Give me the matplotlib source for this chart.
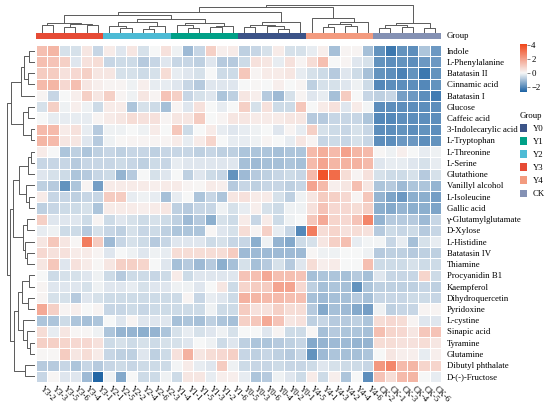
import numpy as np
import matplotlib
matplotlib.use("Agg")
import matplotlib.pyplot as plt
from matplotlib.colors import LinearSegmentedColormap, ListedColormap, Normalize
from matplotlib.cm import ScalarMappable
from matplotlib.patches import Patch

plt.rcParams['font.family'] = ['Liberation Serif', 'DejaVu Serif']

metabolites = ["Indole", "L-Phenylalanine", "Batatasin II", "Cinnamic acid", "Batatasin I",
               "Glucose", "Caffeic acid", "3-Indolecarylic acid", "L-Tryptophan", "L-Threonine",
               "L-Serine", "Glutathione", "Vanillyl alcohol", "L-Isoleucine", "Gallic acid",
               "γ-Glutamylglutamate", "D-Xylose", "L-Histidine", "Batatasin IV", "Thiamine",
               "Procyanidin B1", "Kaempferol", "Dihydroquercetin", "Pyridoxine", "L-cystine",
               "Sinapic acid", "Tyramine", "Glutamine", "Dibutyl phthalate", "D-(-)-Fructose"]

samples = ["Y3-2", "Y3-3", "Y3-5", "Y3-6", "Y3-4", "Y3-1",
           "Y2-1", "Y2-5", "Y2-2", "Y2-4", "Y2-6", "Y2-3",
           "Y1-4", "Y1-1", "Y1-5", "Y1-3", "Y1-2", "Y1-6",
           "Y0-5", "Y0-3", "Y0-6", "Y0-4", "Y0-2", "Y0-1",
           "Y4-5", "Y4-1", "Y4-3", "Y4-2", "Y4-4", "Y4-6",
           "CK-2", "CK-1", "CK-3", "CK-4", "CK-5", "CK-6"]
sample_group = [s.split("-")[0] for s in samples]

group_order = ["Y0", "Y1", "Y2", "Y3", "Y4", "CK"]
group_colors = ["#3C5488", "#00A087", "#4DBBD5", "#E64B35", "#F39B7F", "#8491B4"]

# scaled abundance, one row per metabolite (column order as in the plot)
values = np.array([
    [1.3, 1.5, -0.4, -0.4, 0.4, -0.6, 0.3, -0.3, 0.4, -0.4, 0.0, 0.5, -0.1, -1.1, -0.6, 0.9, 0.2, 0.3, -0.7, -0.6, -0.4, 0.3, -0.4, -0.4, -0.2, 0.2, -1.0, 0.1, 0.1, -1.0, -1.8, -2.3, -1.8, -1.9, -0.9, -1.7],
    [1.3, 1.2, 0.9, -0.3, 0.5, 0.6, -0.6, -0.5, -0.5, -0.8, -0.6, -0.3, -0.6, -0.6, -0.7, -0.3, -0.8, -0.8, -0.5, 0.5, 0.4, -0.2, 0.5, 0.1, 0.6, 1.3, 0.0, 0.1, -0.3, -0.4, -1.8, -1.9, -1.8, -1.9, -1.7, -1.7],
    [1.0, 1.0, 0.5, 0.7, 0.9, 0.4, 0.4, -0.4, -0.4, -0.5, -0.4, 0.6, -0.2, -0.3, -0.4, 0.0, -0.5, -0.5, 1.1, 0.1, 0.3, 0.3, 0.4, -0.2, -0.4, -0.5, -0.8, -0.3, -0.5, -1.0, -1.8, -1.9, -2.1, -1.8, -2.3, -1.8],
    [1.4, 1.5, 0.7, 1.3, 0.4, 0.2, 0.1, 0.1, -0.1, 0.2, -0.2, -0.2, -0.3, -0.6, -0.8, -0.3, -0.3, -0.3, 0.0, 0.05, 0.0, 0.2, 0.0, 0.1, -0.7, -0.4, -0.4, -0.3, -0.1, -0.5, -2.0, -1.9, -1.9, -1.9, -2.0, -1.8],
    [0.1, -0.6, 0.0, 0.2, 0.9, 0.4, 0.9, 0.1, -0.1, 0.4, 0.1, 1.2, 0.9, -0.6, -0.4, -0.3, -0.9, -0.7, 0.4, 0.2, -0.8, -1.1, -0.4, 0.1, -0.3, -0.2, -1.0, 1.0, 0.0, -0.6, -0.7, -0.6, -1.6, -1.7, -1.9, -2.2],
    [-0.4, 0.9, -0.1, 0.2, -0.1, -0.5, 0.3, 0.3, -0.9, -0.4, -0.5, -1.0, 0.1, -0.3, 0.5, 0.0, -0.2, 0.0, 0.9, -0.4, 0.5, -0.5, -0.5, 1.1, 0.0, 0.3, 0.5, -0.3, 0.3, -0.05, -1.9, -1.9, -1.9, -1.9, -1.9, -1.9],
    [0.0, -0.2, -0.2, -0.2, -0.2, 0.1, 0.3, 0.4, 0.6, 0.5, 0.5, 0.1, 0.4, 0.4, 1.0, 0.0, 0.1, 0.4, 0.4, 0.3, 0.3, 0.3, 0.4, 0.4, -0.8, -0.8, -0.6, -0.6, -0.6, -0.9, -2.0, -2.0, -1.9, -1.9, -1.9, -1.9],
    [1.4, 1.4, 0.3, 0.5, -0.2, -0.8, -0.1, -0.1, 0.0, -0.1, 0.3, 0.0, 1.1, -0.5, 0.0, 0.3, -0.2, -0.3, -0.2, -0.1, 0.0, -0.3, 0.1, -0.2, 0.9, -0.4, -0.5, -0.6, -0.4, -0.6, -1.9, -1.9, -1.8, -1.9, -1.8, -1.9],
    [1.5, 1.4, 0.4, 0.4, -0.3, -0.8, -0.1, 0.05, 0.1, 0.1, 0.1, 0.1, 0.3, -0.2, 0.3, 0.8, 0.0, -0.2, -0.2, -0.1, 0.1, 0.0, -0.2, 0.4, 0.1, -0.6, -0.5, -0.6, -0.4, -0.6, -1.9, -1.9, -1.7, -1.7, -1.9, -1.8],
    [0.3, 0.0, -0.9, -0.7, -0.9, -0.7, -0.6, -0.7, -0.6, -0.6, -0.7, -0.6, -0.6, -0.6, -0.7, -0.6, -0.7, -0.7, -0.9, -0.9, -0.9, -1.0, -0.9, -0.9, 1.4, 1.7, 1.4, 2.0, 1.5, 1.4, 0.05, -0.1, 0.2, 0.0, -0.2, -0.1],
    [-0.6, -0.6, -0.6, -0.8, -0.6, -0.6, -0.6, -0.5, -0.6, -0.7, -0.5, -0.6, -0.2, -0.3, -0.3, -0.3, -0.3, -0.3, -1.0, -1.1, -1.0, -1.0, -0.9, -1.0, 1.4, 1.9, 1.5, 1.6, 1.6, 1.4, -0.3, -0.2, -0.2, -0.3, -0.4, -0.2],
    [-0.3, -0.4, -0.5, -0.9, -0.8, -0.6, -0.5, -1.2, -0.8, 0.0, -0.4, -0.3, 0.0, -0.7, -0.3, -0.5, -0.6, -1.8, -1.1, -0.8, -0.7, -0.6, -0.5, -0.6, 1.4, 3.8, 3.2, 0.6, 0.1, 0.5, -0.4, -0.5, -0.5, -0.4, -0.8, -0.4],
    [-0.7, -0.8, -1.8, -0.9, 0.1, -1.6, 0.3, 0.3, 0.3, 0.3, 0.2, 0.3, 0.3, 0.1, 0.05, 0.3, 0.2, -0.8, -0.6, -0.7, -0.6, -0.6, -0.7, -0.6, 1.9, 1.4, 0.2, 0.4, 1.3, 0.4, -0.9, -0.8, -1.1, -0.9, -0.9, -1.2],
    [0.3, -0.6, -0.6, -0.7, -0.6, -0.6, 1.0, 1.0, -0.2, -0.1, -0.2, -1.0, -0.2, 0.0, -0.9, -0.6, -0.9, 0.4, 0.5, 0.3, 0.3, -0.4, -0.7, -0.1, 0.4, 1.0, 0.9, 0.7, 0.1, 1.1, -1.2, -1.5, -1.7, -1.3, -1.3, -1.6],
    [-0.7, -0.6, -0.5, -0.5, -0.4, -0.9, 0.3, 0.3, 0.3, 0.2, 0.3, 0.4, -0.7, -0.8, -0.6, -0.6, -0.1, -0.4, -0.2, 0.2, -0.4, -0.5, -0.1, -0.1, 0.5, 1.2, 0.7, 0.7, 0.6, 0.9, -1.3, -1.4, -1.2, -1.3, -1.3, -1.5],
    [0.9, -0.3, -0.3, -0.3, -0.5, 0.1, -0.5, -0.3, -0.4, -0.5, -0.4, -0.5, -0.7, -1.1, -0.8, -1.3, -0.4, -0.5, 0.3, -0.6, 0.3, -0.5, -0.1, 0.0, 1.1, 1.8, 0.8, 0.7, 1.2, 2.6, -1.2, -0.8, -0.8, -0.8, -1.1, -0.6],
    [-0.2, -0.1, -0.5, -0.5, -0.8, -0.4, -0.6, -0.7, -0.4, -0.6, -0.5, -0.7, -0.9, -0.9, -0.9, 0.05, -0.3, -0.4, 0.6, 0.1, 0.9, -0.2, -0.6, -2.0, 2.8, 0.6, 0.8, 0.5, 0.6, 0.5, -0.8, -0.5, -0.6, -0.5, -0.8, -0.6],
    [0.4, 1.1, 0.4, 0.05, 2.8, 1.0, -1.1, -0.6, -0.4, -0.5, -0.8, -0.6, -0.3, -0.3, -0.3, -0.5, -0.4, -0.6, -0.6, -1.3, -0.1, -1.2, -1.4, -0.5, -0.4, 0.4, 0.9, 1.3, -0.2, -0.05, -0.05, -0.6, -0.2, -1.0, -0.4, -0.2],
    [0.7, 0.5, 0.5, 0.3, 0.3, 0.1, -0.3, 0.0, -0.1, -0.3, -0.1, -0.2, 0.6, 0.6, 0.6, 0.6, 0.6, 1.0, -1.1, -1.1, -1.1, -1.1, -1.1, -1.1, 0.05, -0.1, -0.1, 0.0, 0.0, -0.1, -0.8, -0.7, -0.7, -0.8, -0.7, -0.7],
    [0.4, 1.1, -0.3, 0.5, 0.3, 0.05, 0.4, 0.9, 0.9, 0.8, 0.0, -0.3, -1.0, -0.8, -1.1, -0.8, -1.3, -1.0, -0.4, -1.0, -0.8, -0.4, -0.8, -0.3, 0.6, 0.2, 0.3, 0.0, 0.0, 1.3, -0.5, -0.5, -0.5, -0.4, -0.5, -0.5],
    [0.0, -0.5, -0.4, -0.4, -0.3, -0.1, -0.5, -0.8, -0.5, -0.5, -0.6, -0.5, 0.3, -0.5, -0.3, -0.3, -0.3, -0.3, 1.2, 1.3, 1.8, 1.3, 1.3, 1.2, -1.0, -0.9, -0.9, -1.0, -0.8, -1.0, -0.3, -0.6, -0.6, -0.6, 0.8, -0.5],
    [0.1, -0.3, -0.3, -0.3, -0.4, -0.1, -0.3, -0.3, -0.2, -0.4, -0.3, -0.3, -0.1, -0.1, -0.3, 0.0, 0.4, -0.5, 0.8, 1.0, 1.0, 1.9, 1.9, 0.7, -0.7, -1.0, -0.9, -1.0, -1.8, -0.9, -0.7, -0.7, -0.7, -0.7, -0.6, -0.7],
    [0.1, -0.4, -0.4, -0.8, -0.3, -0.4, -0.5, -0.5, -0.5, -0.5, -0.5, -0.5, -0.5, 0.1, -0.6, -0.2, -0.3, -0.5, 1.6, 1.5, 1.4, 1.4, 1.3, 1.3, -1.0, -1.1, -1.0, -1.0, -0.8, -1.0, -0.6, -0.6, -0.6, -0.5, -0.5, -0.6],
    [1.8, 0.9, 0.1, 0.2, 0.0, 0.1, -0.6, -0.6, -0.5, -0.6, -0.5, -0.5, -0.5, -0.5, -0.5, -0.1, -0.5, -0.5, 1.0, 0.5, 0.5, 0.9, 0.6, 0.6, -0.8, -1.4, -1.0, -1.1, -1.4, -1.6, -0.1, -0.7, -0.6, -0.6, 0.1, 0.1],
    [-0.9, -0.9, -0.5, -0.9, -1.0, -0.9, 0.0, -0.3, 0.1, -0.3, -0.3, -0.3, -1.0, -0.9, -1.0, -0.7, -0.9, -1.0, 0.9, 1.1, 1.8, 1.2, 0.4, 0.5, -0.7, -0.6, -0.8, -0.8, -0.7, -0.9, 0.6, 0.7, 0.6, 0.1, -0.3, -0.3],
    [0.6, -0.2, 0.4, 0.05, 0.05, -0.1, -0.9, -1.2, -1.2, -1.3, -1.2, -0.9, -0.4, -0.2, -0.4, -0.3, -0.1, -0.4, 0.0, 0.0, -0.3, 0.1, -0.5, -0.5, 0.05, -1.0, -0.8, -0.9, -0.9, -1.0, 1.3, 0.8, 0.7, 0.4, 1.1, 1.2],
    [0.9, 0.9, 0.8, 0.7, 0.7, 0.5, -0.5, -0.4, -0.5, -0.4, -0.5, -0.4, -0.4, -0.3, 0.0, -0.1, -0.5, -0.3, -0.7, -0.9, -0.9, -0.8, -0.7, -0.6, -1.4, -1.2, -1.1, -1.1, -1.2, -1.2, 0.6, 0.6, 0.5, 0.5, 0.6, 0.4],
    [0.05, 0.05, 1.0, 0.4, 0.6, 0.3, -0.6, -0.7, -0.7, -0.3, -0.7, -0.5, 0.5, 1.6, 0.4, 0.6, 0.7, 0.9, -0.6, -0.7, -0.6, -0.7, -0.8, -0.6, -1.8, -1.1, -0.9, -1.0, -1.0, -0.9, 0.0, 0.4, 0.2, 0.2, -0.2, 0.2],
    [-0.8, -0.8, -0.6, -0.9, -0.6, -0.8, -0.6, -0.5, -0.6, -0.5, -0.5, -0.5, -0.05, 0.3, -0.2, -0.3, 1.0, -0.1, -0.5, -0.6, -0.6, -0.5, -0.6, -0.6, -0.5, -0.3, -0.4, -0.5, -0.5, -0.6, 2.2, 2.6, 1.4, 1.5, 0.8, 0.8],
    [-0.6, 0.05, -0.3, -0.3, -1.1, -2.6, -0.1, -1.4, 0.0, -0.5, -0.5, -0.1, -0.5, 0.4, 0.4, -0.2, 0.2, 0.2, -0.2, -0.9, -0.8, -0.1, -0.3, -0.5, 0.3, -0.5, 0.2, -0.9, 0.0, -1.9, 1.2, 0.6, 1.4, 1.5, 0.0, -0.2],
])

# cluster trees as (left, right, height); leaves are positions in the plot order
y3 = ((0, 1, 8), ((2, 3, 6.5), (4, 5, 8.5), 9), 10)
y2 = ((6, (7, 8, 5), 7), ((9, 10, 4), 11, 7.5), 11)
y1 = ((12, (13, 14, 5), 8), ((15, 16, 6), 17, 7), 10)
y0 = ((((18, 19, 6), (20, (21, 22, 4), 7), 8.5)), 23, 11)
y4 = (24, (((25, 26, 6), (27, 28, 7), 9), 29, 11), 15)
ck = (((30, 31, 5), (32, 33, 6), 8), (34, 35, 5), 10)
col_tree = (((((y3, (y2, y1, 14), 18)), y0, 21), y4, 26.3), ck, 28)

top = ((((0, 1, 6), (2, 3, 7), 11), 4, 14), ((5, 6, 7), (7, 8, 4), 12), 24)
mid = (((((9, 10, 4), 11, 7), (12, (13, 14, 6), 9), 16)),
       (((15, 16, 8), (17, (18, 19, 8), 10), 12)), 22)
low = (((((20, 21, 6), (22, 23, 7), 13)), (24, (25, (26, 27, 5), 8), 12), 17), (28, 29, 10), 21)
row_tree = (top, (mid, low, 25), 28)


def draw_tree(ax, node, horizontal):
    if isinstance(node, int):
        return node + 0.5, 0.0
    a, b, h = node
    ca, ha = draw_tree(ax, a, horizontal)
    cb, hb = draw_tree(ax, b, horizontal)
    xs = [ca, ca, cb, cb]
    ys = [ha, h, h, hb]
    if horizontal:
        ax.plot(ys, xs, color="#5a5a5a", lw=0.7, solid_capstyle="butt")
    else:
        ax.plot(xs, ys, color="#5a5a5a", lw=0.7, solid_capstyle="butt")
    return (ca + cb) / 2, h


W, H = 550, 408
fig = plt.figure(figsize=(W / 100, H / 100), dpi=100)


def box(x0, y0, x1, y1):
    return [x0 / W, 1 - y1 / H, (x1 - x0) / W, (y1 - y0) / H]


vmin, vmax = -2.7, 4.1
cmap = LinearSegmentedColormap.from_list(
    "bwr_custom", [(0, "#1c62a3"), (-vmin / (vmax - vmin), "#f7f7f7"), (1, "#f0461a")])
norm = Normalize(vmin, vmax)

n_rows, n_cols = values.shape

ax = fig.add_axes(box(36, 45, 441, 382))
ax.pcolormesh(values, cmap=cmap, norm=norm, edgecolors="white", linewidth=0.45)
ax.set_xlim(0, n_cols)
ax.set_ylim(n_rows, 0)
for s in ax.spines.values():
    s.set_visible(False)
ax.yaxis.tick_right()
ax.set_yticks(np.arange(n_rows) + 0.5)
ax.set_yticklabels(metabolites, fontsize=6.3)
ax.set_xticks(np.arange(n_cols) + 0.5)
ax.set_xticklabels(samples, fontsize=6.2, rotation=-45, ha="left", va="center",
                   rotation_mode="anchor")
ax.tick_params(length=0, pad=4)

# group annotation bar
ax_g = fig.add_axes(box(36, 33, 441, 38.5))
gidx = np.array([[group_order.index(g) for g in sample_group]])
ax_g.pcolormesh(gidx, cmap=ListedColormap(group_colors), vmin=-0.5, vmax=len(group_order) - 0.5)
ax_g.set_xlim(0, n_cols)
ax_g.axis("off")
ax_g.text(1.015, 0.5, "Group", transform=ax_g.transAxes, va="center", ha="left", fontsize=6.3)

# column dendrogram
ax_c = fig.add_axes(box(36, 3, 441, 33))
draw_tree(ax_c, col_tree, horizontal=False)
ax_c.set_xlim(0, n_cols)
ax_c.set_ylim(0, 30)
ax_c.axis("off")

# row dendrogram
ax_r = fig.add_axes(box(2, 45, 35, 382))
draw_tree(ax_r, row_tree, horizontal=True)
ax_r.set_ylim(n_rows, 0)
ax_r.set_xlim(33, 0)
ax_r.axis("off")

# colour bar
ax_cb = fig.add_axes(box(520, 44, 527, 92))
cb = fig.colorbar(ScalarMappable(norm=norm, cmap=cmap), cax=ax_cb, ticks=[-2, 0, 2, 4])
cb.outline.set_visible(False)
ax_cb.tick_params(length=2, width=0.5, labelsize=6.3, pad=1, color="#555555")

handles = [Patch(facecolor=c, edgecolor="none") for c in group_colors]
leg = fig.legend(handles, group_order, title="Group", loc="upper left",
                 bbox_to_anchor=(520 / W, 1 - 112 / H), frameon=False, fontsize=6.3,
                 title_fontsize=6.3, handlelength=0.75, handleheight=0.9, handletextpad=0.7,
                 labelspacing=0.5, borderpad=0, borderaxespad=0, alignment="left")

fig.savefig("out.png", dpi=100)
